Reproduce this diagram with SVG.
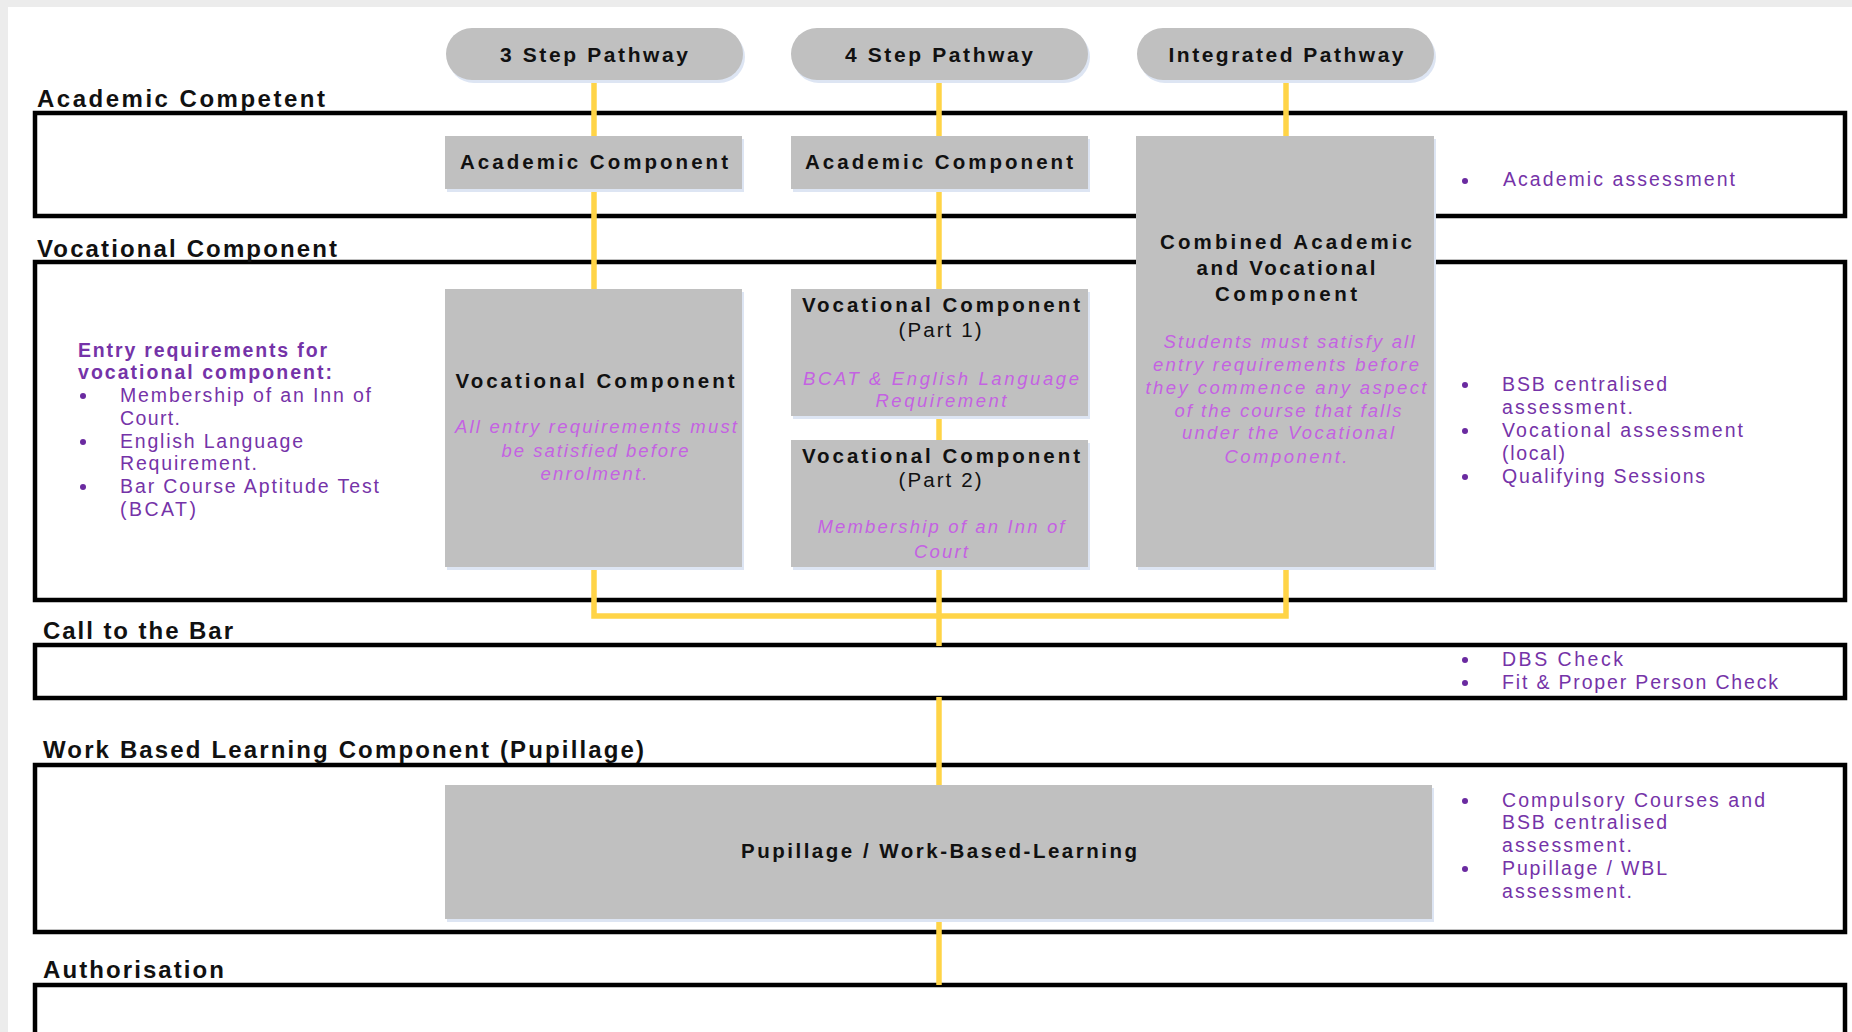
<svg xmlns="http://www.w3.org/2000/svg" width="1852" height="1032" viewBox="0 0 1852 1032">
<defs>
<style>
.sec{fill:none;stroke:#000;stroke-width:4.5}
.node{fill:#c0c0c0}
.shadow{fill:#dde5f3}
.conn{fill:none;stroke:#ffd447;stroke-width:5.5;stroke-linejoin:miter}
.lbl{font-family:"Liberation Sans",Arial,sans-serif;font-weight:bold;font-size:24px;fill:#111}
.pill{font-family:"Liberation Sans",Arial,sans-serif;font-weight:bold;font-size:21px;fill:#111;text-anchor:middle}
.title{font-family:"Liberation Sans",Arial,sans-serif;font-weight:bold;font-size:20.5px;fill:#111;text-anchor:middle}
.sub{font-family:"Liberation Sans",Arial,sans-serif;font-size:20.5px;fill:#111;text-anchor:middle}
.ital{font-family:"Liberation Sans",Arial,sans-serif;font-style:italic;font-size:18.5px;fill:#c462e2;text-anchor:middle}
.pur{font-family:"Liberation Sans",Arial,sans-serif;font-size:19.5px;fill:#7533a8}
.purb{font-family:"Liberation Sans",Arial,sans-serif;font-size:19.5px;font-weight:bold;fill:#7533a8}
.dot{fill:#6a2aa0}
</style>
</defs>
<rect x="0" y="0" width="1852" height="1032" fill="#fff"/>
<rect x="0" y="0" width="1852" height="7" fill="#ececec"/>
<rect x="0" y="0" width="8" height="1032" fill="#ececec"/>

<g id="sections">
<g id="sec-academic">
<rect class="sec" x="35" y="113" width="1810" height="103"/>
<text class="lbl" x="37" y="107" textLength="288" lengthAdjust="spacing">Academic Competent</text>
</g>
<g id="sec-vocational">
<rect class="sec" x="35" y="262" width="1810" height="338"/>
<text class="lbl" x="37" y="257" textLength="300" lengthAdjust="spacing">Vocational Component</text>
</g>
<g id="sec-call">
<rect class="sec" x="35" y="645" width="1810" height="53"/>
<text class="lbl" x="43" y="639" textLength="190" lengthAdjust="spacing">Call to the Bar</text>
</g>
<g id="sec-wbl">
<rect class="sec" x="35" y="765" width="1810" height="167"/>
<text class="lbl" x="43" y="758" textLength="601" lengthAdjust="spacing">Work Based Learning Component (Pupillage)</text>
</g>
<g id="sec-auth">
<rect class="sec" x="35" y="985" width="1810" height="100"/>
<text class="lbl" x="43" y="978" textLength="181" lengthAdjust="spacing">Authorisation</text>
</g>
</g>

<g id="connectors">
<path class="conn" d="M594,78 V138"/>
<path class="conn" d="M594,187 V291"/>
<path class="conn" d="M594,565 V616 H1286 V565"/>
<path class="conn" d="M939,78 V138"/>
<path class="conn" d="M939,187 V291"/>
<path class="conn" d="M939,414 V442"/>
<path class="conn" d="M939,565 V646"/>
<path class="conn" d="M939,697 V787"/>
<path class="conn" d="M939,917 V985"/>
<path class="conn" d="M1286,78 V138"/>
</g>

<g id="pill-3step">
<rect class="shadow" x="448" y="31" width="297" height="52" rx="26"/>
<rect class="node" x="446" y="28" width="297" height="52" rx="26"/>
<text class="pill" x="594" y="62" textLength="188" lengthAdjust="spacing">3 Step Pathway</text>
</g>
<g id="pill-4step">
<rect class="shadow" x="793" y="31" width="297" height="52" rx="26"/>
<rect class="node" x="791" y="28" width="297" height="52" rx="26"/>
<text class="pill" x="939" y="62" textLength="188" lengthAdjust="spacing">4 Step Pathway</text>
</g>
<g id="pill-integrated">
<rect class="shadow" x="1139" y="31" width="297" height="52" rx="26"/>
<rect class="node" x="1137" y="28" width="297" height="52" rx="26"/>
<text class="pill" x="1286" y="62" textLength="235" lengthAdjust="spacing">Integrated Pathway</text>
</g>

<g id="academic-3step">
<rect class="shadow" x="447" y="139" width="297" height="53"/>
<rect class="node" x="445" y="136" width="297" height="53"/>
<text class="title" x="594" y="169" textLength="268" lengthAdjust="spacing">Academic Component</text>
</g>
<g id="academic-4step">
<rect class="shadow" x="793" y="139" width="297" height="53"/>
<rect class="node" x="791" y="136" width="297" height="53"/>
<text class="title" x="939" y="169" textLength="268" lengthAdjust="spacing">Academic Component</text>
</g>
<g id="combined">
<rect class="shadow" x="1138" y="139" width="298" height="431"/>
<rect class="node" x="1136" y="136" width="298" height="431"/>
<text class="title" x="1286" y="249" textLength="252" lengthAdjust="spacing">Combined Academic</text>
<text class="title" x="1286" y="275" textLength="179" lengthAdjust="spacing">and Vocational</text>
<text class="title" x="1286" y="301" textLength="142" lengthAdjust="spacing">Component</text>
<text class="ital" x="1289" y="348" textLength="251" lengthAdjust="spacing">Students must satisfy all</text>
<text class="ital" x="1286" y="371" textLength="266" lengthAdjust="spacing">entry requirements before</text>
<text class="ital" x="1286" y="394" textLength="281" lengthAdjust="spacing">they commence any aspect</text>
<text class="ital" x="1288" y="417" textLength="227" lengthAdjust="spacing">of the course that falls</text>
<text class="ital" x="1288" y="439" textLength="212" lengthAdjust="spacing">under the Vocational</text>
<text class="ital" x="1286" y="463" textLength="123" lengthAdjust="spacing">Component.</text>
</g>
<g id="vocational-3step">
<rect class="shadow" x="447" y="292" width="297" height="278"/>
<rect class="node" x="445" y="289" width="297" height="278"/>
<text class="title" x="595" y="388" textLength="279" lengthAdjust="spacing">Vocational Component</text>
<text class="ital" x="596" y="433" textLength="282" lengthAdjust="spacing">All entry requirements must</text>
<text class="ital" x="595" y="457" textLength="187" lengthAdjust="spacing">be satisfied before</text>
<text class="ital" x="594" y="480" textLength="107" lengthAdjust="spacing">enrolment.</text>
</g>
<g id="vocational-part1">
<rect class="shadow" x="793" y="292" width="297" height="127"/>
<rect class="node" x="791" y="289" width="297" height="127"/>
<text class="title" x="941" y="312" textLength="278" lengthAdjust="spacing">Vocational Component</text>
<text class="sub" x="940" y="337" textLength="83" lengthAdjust="spacing">(Part 1)</text>
<text class="ital" x="941" y="385" textLength="276" lengthAdjust="spacing">BCAT &amp; English Language</text>
<text class="ital" x="941" y="407" textLength="131" lengthAdjust="spacing">Requirement</text>
</g>
<g id="vocational-part2">
<rect class="shadow" x="793" y="443" width="297" height="127"/>
<rect class="node" x="791" y="440" width="297" height="127"/>
<text class="title" x="941" y="463" textLength="278" lengthAdjust="spacing">Vocational Component</text>
<text class="sub" x="940" y="487" textLength="83" lengthAdjust="spacing">(Part 2)</text>
<text class="ital" x="941" y="533" textLength="247" lengthAdjust="spacing">Membership of an Inn of</text>
<text class="ital" x="941" y="558" textLength="54" lengthAdjust="spacing">Court</text>
</g>
<g id="pupillage">
<rect class="shadow" x="447" y="788" width="987" height="134"/>
<rect class="node" x="445" y="785" width="987" height="134"/>
<text class="title" x="939" y="858" textLength="396" lengthAdjust="spacing">Pupillage / Work-Based-Learning</text>
</g>

<g id="entry-requirements">
<text class="purb" x="78" y="357" textLength="249" lengthAdjust="spacing">Entry requirements for</text>
<text class="purb" x="78" y="379" textLength="254" lengthAdjust="spacing">vocational component:</text>
<circle class="dot" cx="83" cy="396" r="3"/>
<text class="pur" x="120" y="402" textLength="251" lengthAdjust="spacing">Membership of an Inn of</text>
<text class="pur" x="120" y="425" textLength="60" lengthAdjust="spacing">Court.</text>
<circle class="dot" cx="83" cy="442" r="3"/>
<text class="pur" x="120" y="448" textLength="183" lengthAdjust="spacing">English Language</text>
<text class="pur" x="120" y="470" textLength="137" lengthAdjust="spacing">Requirement.</text>
<circle class="dot" cx="83" cy="487" r="3"/>
<text class="pur" x="120" y="493" textLength="259" lengthAdjust="spacing">Bar Course Aptitude Test</text>
<text class="pur" x="120" y="516" textLength="76" lengthAdjust="spacing">(BCAT)</text>
</g>

<g id="notes-academic">
<circle class="dot" cx="1465" cy="181" r="3"/>
<text class="pur" x="1503" y="186" textLength="232" lengthAdjust="spacing">Academic assessment</text>
</g>
<g id="notes-vocational">
<circle class="dot" cx="1465" cy="385" r="3"/>
<text class="pur" x="1502" y="391" textLength="165" lengthAdjust="spacing">BSB centralised</text>
<text class="pur" x="1502" y="414" textLength="131" lengthAdjust="spacing">assessment.</text>
<circle class="dot" cx="1465" cy="431" r="3"/>
<text class="pur" x="1502" y="437" textLength="241" lengthAdjust="spacing">Vocational assessment</text>
<text class="pur" x="1502" y="460" textLength="63" lengthAdjust="spacing">(local)</text>
<circle class="dot" cx="1465" cy="477" r="3"/>
<text class="pur" x="1502" y="483" textLength="203" lengthAdjust="spacing">Qualifying Sessions</text>
</g>
<g id="notes-call">
<circle class="dot" cx="1465" cy="660" r="3"/>
<text class="pur" x="1502" y="666" textLength="121" lengthAdjust="spacing">DBS Check</text>
<circle class="dot" cx="1465" cy="683" r="3"/>
<text class="pur" x="1502" y="689" textLength="276" lengthAdjust="spacing">Fit &amp; Proper Person Check</text>
</g>
<g id="notes-wbl">
<circle class="dot" cx="1465" cy="801" r="3"/>
<text class="pur" x="1502" y="807" textLength="263" lengthAdjust="spacing">Compulsory Courses and</text>
<text class="pur" x="1502" y="829" textLength="165" lengthAdjust="spacing">BSB centralised</text>
<text class="pur" x="1502" y="852" textLength="130" lengthAdjust="spacing">assessment.</text>
<circle class="dot" cx="1465" cy="869" r="3"/>
<text class="pur" x="1502" y="875" textLength="165" lengthAdjust="spacing">Pupillage / WBL</text>
<text class="pur" x="1502" y="898" textLength="130" lengthAdjust="spacing">assessment.</text>
</g>
</svg>
